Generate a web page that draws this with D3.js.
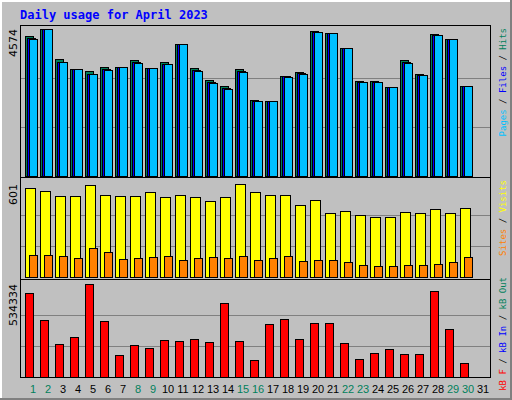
<!DOCTYPE html>
<html><head><meta charset="utf-8">
<script src="https://cdn.jsdelivr.net/npm/d3@7"></script>
<style>body{margin:0;background:#fff}</style>
</head><body>
<script>
const days = d3.range(1, 32);
// (April 2023, day 31 has no data)
const hits   = [4355,4574,3630,3320,3260,3380,3380,3600,3350,3560,4120,3350,2990,2800,3320,2360,2330,3100,3230,4510,4450,3980,2960,2960,2770,3600,3170,4420,4260,2800];
const files  = [4300,4574,3560,3320,3170,3320,3380,3540,3350,3500,4120,3290,2930,2740,3260,2330,2330,3100,3200,4480,4450,3980,2930,2930,2770,3540,3140,4390,4260,2800];
const pages  = [4270,4574,3540,3320,3160,3300,3380,3510,3350,3480,4120,3260,2900,2710,3230,2330,2330,3070,3170,4480,4450,3980,2930,2930,2770,3510,3140,4390,4260,2800];
const visits = [575,556,524,524,595,530,524,524,550,517,530,517,491,517,601,550,530,530,465,498,414,427,401,388,388,420,414,440,414,446];
const sites  = [142,142,136,123,187,162,116,123,129,136,110,123,129,123,136,110,123,136,103,110,110,97,78,71,71,78,78,84,97,129];
const kbytes = [482000,325000,192000,227000,534334,319000,128000,186000,168000,215000,209000,221000,203000,424000,209000,99000,302000,331000,221000,308000,308000,197000,105000,139000,163000,134000,134000,494000,273000,82000];
const weekend = [1,2,8,9,15,16,22,23,29,30];

const W = 512, H = 400;
const svg = d3.select("body").append("svg").attr("width", W).attr("height", H);

// frame
svg.append("rect").attr("width", W).attr("height", H).attr("fill", "#c0c0c0");
svg.append("path").attr("d", "M0.5,399.5V0.5H511.5").attr("stroke", "#fff").attr("stroke-width", 3).attr("fill", "none");
svg.append("path").attr("d", "M511,0V399H0").attr("stroke", "#808080").attr("stroke-width", 2).attr("fill", "none");
svg.append("rect").attr("x", 20.5).attr("y", 25.5).attr("width", 470).attr("height", 352)
  .attr("fill", "none").attr("stroke", "#000");

svg.append("text").attr("x", 20).attr("y", 19).text("Daily usage for April 2023")
  .attr("font-family", "DejaVu Sans Mono").attr("font-weight", "bold").attr("font-size", 12).attr("fill", "#0000ff");

const x = d3.scaleLinear().domain([1, 31]).range([25, 475]);

function panel(top, base, max, label) {
  const y = d3.scaleLinear().domain([0, max]).range([base, top]);
  const g = svg.append("g");
  [1/3, 2/3].forEach(f => g.append("line").attr("x1", 21).attr("x2", 490)
    .attr("y1", Math.round(y(max * f)) + 0.5).attr("y2", Math.round(y(max * f)) + 0.5).attr("stroke", "#808080"));
  svg.append("text").attr("transform", `translate(17,${top}) rotate(-90)`).attr("text-anchor", "end")
    .attr("font-family", "DejaVu Sans").attr("font-size", 11).text(label);
  return y;
}

function bars(data, y, dx, w, fill) {
  svg.append("g").selectAll("rect").data(data).join("rect")
    .attr("x", (d, i) => x(i + 1) + dx + 0.5).attr("y", d => Math.round(y(d)) + 0.5)
    .attr("width", w).attr("height", d => Math.round(y(0) - y(d)))
    .attr("fill", fill).attr("stroke", "#000");
}

const y1 = panel(29, 176, 4574, "4574");
bars(hits, y1, 0, 8, "#00805c");
bars(files, y1, 2, 8, "#0000ff");
bars(pages, y1, 4, 8, "#00c0ff");
svg.append("line").attr("x1", 21).attr("x2", 490).attr("y1", 177.5).attr("y2", 177.5).attr("stroke", "#000");

const y2 = panel(184, 277, 601, "601");
bars(visits, y2, 0, 10, "#ffff00");
bars(sites, y2, 4, 8, "#ff8000");
svg.append("line").attr("x1", 21).attr("x2", 490).attr("y1", 279.5).attr("y2", 279.5).attr("stroke", "#000");

const y3 = panel(284, 377, 534334, "534334");
bars(kbytes, y3, 0, 8, "#ff0000");

svg.append("g").selectAll("text").data(days).join("text")
  .attr("x", d => x(d) + 8).attr("y", 393).attr("text-anchor", "middle")
  .attr("font-family", "Liberation Sans").attr("font-size", 11)
  .attr("fill", d => weekend.includes(d) ? "#00805c" : "#000").text(d => d);

// right legends
function legend(yy, parts) {
  const t = svg.append("text").attr("transform", `translate(506,${yy}) rotate(-90)`)
    .attr("text-anchor", "end").attr("font-family", "DejaVu Sans Mono").attr("font-size", 9);
  parts.forEach(([s, c]) => t.append("tspan").attr("fill", c).text(s));
}
legend(28, [["Pages", "#00c0ff"], [" / ", "#000"], ["Files", "#0000ff"], [" / ", "#000"], ["Hits", "#00805c"]]);
legend(180, [["Sites", "#ff8000"], [" / ", "#000"], ["Visits", "#ffff00"]]);
legend(277, [["kB F", "#ff0000"], [" / ", "#000"], ["kB In", "#0000ff"], [" / ", "#000"], ["kB Out", "#00805c"]]);
</script>
</body></html>
